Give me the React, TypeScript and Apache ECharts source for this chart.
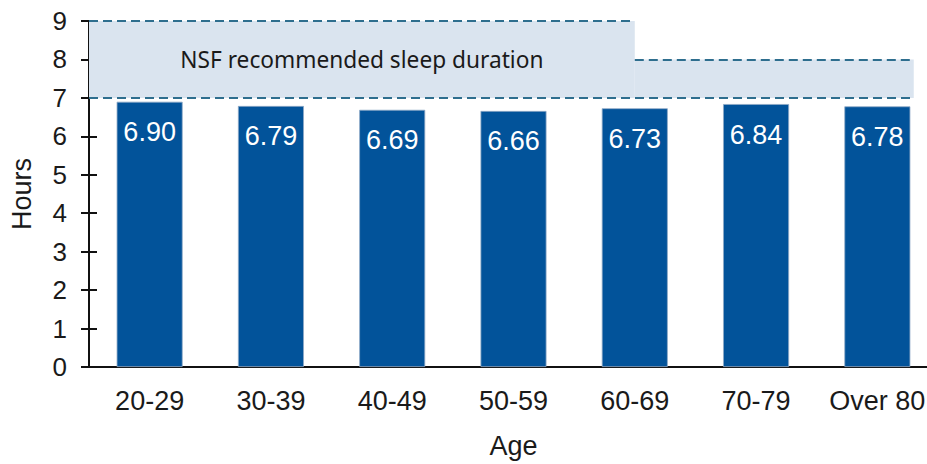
import React, { useEffect, useRef } from "react";
import * as echarts from "echarts";

const categories = ["20-29", "30-39", "40-49", "50-59", "60-69", "70-79", "Over 80"];
const hours = [6.9, 6.79, 6.69, 6.66, 6.73, 6.84, 6.78];
const yTicks = { min: 0, max: 9, interval: 1 };
// recommended bands on a 0..7 category-position scale
const bandX0 = [0, 4.5];
const bandX1 = [4.5, 6.8];
const bandLow = [7, 7];
const bandHigh = [9, 8];
const bandText = "NSF recommended sleep duration";

export default function App() {
  const ref = useRef<HTMLDivElement>(null);
  useEffect(() => {
    if (!ref.current) return;
    const chart = echarts.init(ref.current, null, { renderer: "svg" });
    const lineStyle = { color: "#2E6E8E", width: 2, type: [9, 5] as any };
    const markLines: any[] = [];
    bandX0.forEach((x0, i) => {
      markLines.push([{ coord: [x0, bandHigh[i]] }, { coord: [bandX1[i], bandHigh[i]] }]);
    });
    markLines.push([{ coord: [bandX0[0], bandLow[0]] }, { coord: [bandX1[bandX1.length - 1], bandLow[0]] }]);
    const option: any = {
      animation: false,
      textStyle: { fontFamily: "Liberation Sans, Arial, sans-serif" },
      grid: { left: 89, right: 2, top: 21, bottom: 92, containLabel: false },
      xAxis: [
        {
          type: "category",
          data: categories,
          boundaryGap: true,
          axisLine: { lineStyle: { color: "#111", width: 2 } },
          axisTick: { show: false },
          axisLabel: { color: "#1a1a1a", fontSize: 27, margin: 20, interval: 0 },
          name: "Age",
          nameLocation: "middle",
          nameGap: 65,
          nameTextStyle: { color: "#1a1a1a", fontSize: 27 },
        },
        { type: "value", min: 0, max: 7, show: false },
      ],
      yAxis: [
        {
          type: "value",
          ...yTicks,
          axisLine: { show: true, lineStyle: { color: "#111", width: 2 } },
          axisTick: { show: true, length: 8, lineStyle: { color: "#111", width: 2 } },
          splitLine: { show: false },
          axisLabel: { color: "#1a1a1a", fontSize: 26, margin: 22 },
          name: "Hours",
          nameLocation: "middle",
          nameGap: 54,
          nameRotate: 90,
          nameTextStyle: { color: "#1a1a1a", fontSize: 27 },
        },
        {
          type: "value",
          ...yTicks,
          position: "left",
          axisLine: { show: false },
          axisTick: { show: true, inside: true, length: 8, lineStyle: { color: "#111", width: 2 } },
          axisLabel: { show: false },
          splitLine: { show: false },
        },
      ],
      series: [
        {
          type: "line",
          xAxisIndex: 1,
          yAxisIndex: 0,
          data: [],
          silent: true,
          z: 1,
          markArea: {
            silent: true,
            itemStyle: { color: "#DAE4EF" },
            label: { show: false },
            data: bandX0.map((x0, i) => [
              {
                coord: [x0, bandLow[i]],
                label: i === 0
                  ? { show: true, position: "inside", formatter: bandText, color: "#1a1a1a", fontSize: 22.7, fontFamily: "Noto Sans" }
                  : { show: false },
              },
              { coord: [bandX1[i], bandHigh[i]] },
            ]),
          },
          markLine: {
            silent: true,
            symbol: "none",
            label: { show: false },
            lineStyle,
            data: markLines,
          },
        },
        {
          type: "bar",
          data: hours,
          barWidth: 66,
          z: 3,
          itemStyle: { color: "#02539A", borderColor: "#8FA9C6", borderWidth: 0.8 },
          label: {
            show: true,
            position: "insideTop",
            distance: 17,
            color: "#ffffff",
            fontSize: 27,
            formatter: (p: any) => p.value.toFixed(2),
          },
        },
      ],
    };
    chart.setOption(option);
    return () => chart.dispose();
  }, []);
  return (
    <div style={{ position: "absolute", left: 0, top: 0, width: 927, height: 464, overflow: "hidden" }}>
      <div ref={ref} style={{ width: 940, height: 464 }} />
    </div>
  );
}
